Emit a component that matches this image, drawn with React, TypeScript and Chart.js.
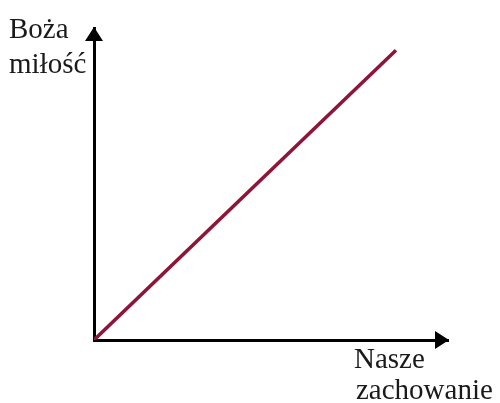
import React, { useEffect, useRef } from "react";
import { Chart, registerables } from "chart.js";

Chart.register(...registerables);

const xValues = [0, 85.3];
const yValues = [0, 92.9];
const yAxisLabel = ["Boża", "miłość"];
const xAxisLabel = ["Nasze", "zachowanie"];

const arrowPlugin = {
  id: "arrowsAndLabels",
  afterDraw(chart: any) {
    const { ctx, chartArea } = chart;
    const { left, right, top, bottom } = chartArea;
    ctx.save();
    ctx.fillStyle = "#000";
    // y arrow
    ctx.beginPath();
    ctx.moveTo(left, top - 1);
    ctx.lineTo(left - 9, top + 13);
    ctx.lineTo(left + 9, top + 13);
    ctx.closePath();
    ctx.fill();
    // x arrow
    ctx.beginPath();
    ctx.moveTo(right + 1, bottom);
    ctx.lineTo(right - 13, bottom - 9);
    ctx.lineTo(right - 13, bottom + 9);
    ctx.closePath();
    ctx.fill();
    // labels
    ctx.fillStyle = "#1a1a1a";
    ctx.font = "29px 'Liberation Serif', serif";
    ctx.textBaseline = "alphabetic";
    ctx.textAlign = "left";
    ctx.fillText(yAxisLabel[0], 9, 38);
    ctx.fillText(yAxisLabel[1], 9, 73);
    ctx.fillText(xAxisLabel[0], 354, 368);
    ctx.fillText(xAxisLabel[1], 356, 399);
    ctx.restore();
  },
};

export default function App() {
  const ref = useRef<HTMLCanvasElement>(null);
  useEffect(() => {
    if (!ref.current) return;
    const chart = new Chart(ref.current, {
      type: "line",
      data: {
        datasets: [
          {
            data: xValues.map((x, i) => ({ x, y: yValues[i] })),
            borderColor: "#8e1538",
            borderWidth: 3.5,
            pointRadius: 0,
            tension: 0,
          },
        ],
      },
      options: {
        animation: false,
        responsive: false,
        events: [],
        layout: { padding: { left: 94, top: 28, right: 52, bottom: 63 } },
        plugins: { legend: { display: false }, tooltip: { enabled: false } },
        scales: {
          x: {
            type: "linear",
            min: 0,
            max: 100,
            ticks: { display: false },
            grid: { display: false, drawTicks: false },
            border: { display: true, color: "#000", width: 3 },
          },
          y: {
            type: "linear",
            min: 0,
            max: 100,
            ticks: { display: false },
            grid: { display: false, drawTicks: false },
            border: { display: true, color: "#000", width: 3 },
          },
        },
      },
      plugins: [arrowPlugin],
    });
    return () => chart.destroy();
  }, []);
  return (
    <div style={{ position: "fixed", left: 0, top: 0, width: 500, height: 403, background: "#fff" }}>
      <canvas ref={ref} width={500} height={403} style={{ display: "block" }} />
    </div>
  );
}
